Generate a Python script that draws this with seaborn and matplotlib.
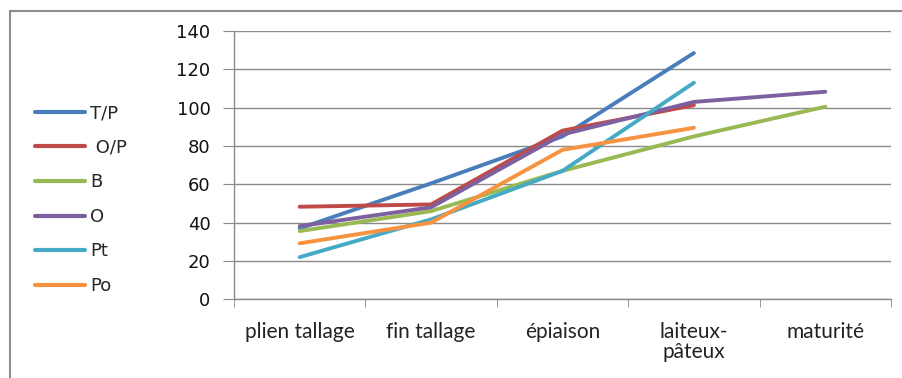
import numpy as np
import pandas as pd
import matplotlib.pyplot as plt
import seaborn as sns
from matplotlib.lines import Line2D

# stades et series
stades = ["plien tallage", "fin tallage", "épiaison", "laiteux-\npâteux", "maturité"]
series = ["T/P", " O/P", "B", "O", "Pt", "Po"]
tp = [37, 60.5, 85, 128.5, np.nan]
op = [48.3, 49.5, 88, 101.3, np.nan]
b = [35.6, 46, 67, 85, 100.5]
o = [38.2, 48, 86, 103, 108.3]
pt = [22, 41.7, 67, 113, np.nan]
po = [29.2, 40, 78, 89.5, np.nan]
couleurs = ["#4A7EBB", "#BE4B48", "#98B954", "#7D60A0", "#46AAC5", "#F69240"]

rows = []
for nom, vals in zip(series, [tp, op, b, o, pt, po]):
    for i, v in enumerate(vals):
        if not np.isnan(v):
            rows.append({"stade": i, "val": v, "serie": nom})
df = pd.DataFrame(rows)

sns.set_style("white")
plt.rcParams["font.family"] = ["DejaVu Sans"]

fig = plt.figure(figsize=(9.03, 3.78), dpi=100)
ax = fig.add_axes([234 / 903, 1 - 299.3 / 378, (891 - 234) / 903, (299.3 - 31) / 378])

sns.lineplot(data=df, x="stade", y="val", hue="serie", hue_order=series,
             palette=couleurs, lw=2.8, ax=ax, legend=True, sort=False)

ax.set_xlim(-0.5, 4.5)
ax.set_ylim(0, 140)
ax.set_yticks(range(0, 141, 20))
ax.yaxis.grid(True, color="#8a8a8a", lw=1)
ax.set_axisbelow(True)
ax.set_xticks(range(5))
ax.set_xticklabels(stades, fontfamily="Lato", fontsize=15, color="#222222",
                   linespacing=1.0, va="top")
ax.set_xticks(np.arange(-0.5, 5, 1), minor=True)
ax.tick_params(axis="x", which="major", length=0, pad=16)
ax.tick_params(axis="x", which="minor", length=6, color="#8a8a8a", direction="out", bottom=True)
ax.tick_params(axis="y", length=8, color="#8a8a8a", direction="out", left=True,
               labelsize=13, pad=9, labelcolor="#111111")
ax.set_xlabel("")
ax.set_ylabel("")
for s in ["top", "right"]:
    ax.spines[s].set_visible(False)
for s in ["left", "bottom"]:
    ax.spines[s].set_color("#8a8a8a")
    ax.spines[s].set_linewidth(1)

# legende a gauche
h, l = ax.get_legend_handles_labels()
ax.legend(h, l, loc="upper left", bbox_to_anchor=(35 / 903, 1 - 104 / 378),
          bbox_transform=fig.transFigure, frameon=False, fontsize=13,
          handlelength=2.75, handletextpad=0.3, labelspacing=0.92,
          borderpad=0, borderaxespad=0)
for ln in ax.get_legend().get_lines():
    ln.set_linewidth(3)

# cadre du graphique
fig.add_artist(Line2D([10 / 903, 10 / 903], [0, 1 - 10.5 / 378], transform=fig.transFigure,
                      color="#8c8c8c", lw=1.5))
fig.add_artist(Line2D([10 / 903, 1], [1 - 10.5 / 378, 1 - 10.5 / 378], transform=fig.transFigure,
                      color="#8c8c8c", lw=1.5))

fig.savefig("out.png", dpi=100)
